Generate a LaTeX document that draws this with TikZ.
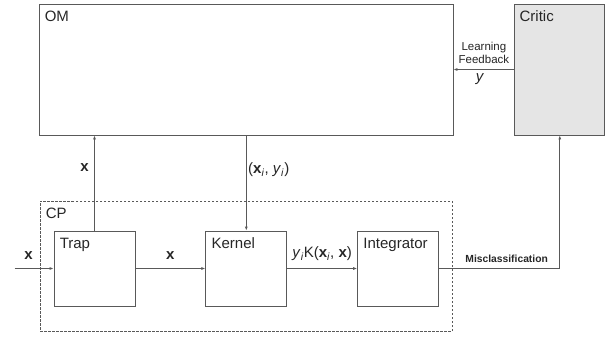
\documentclass[tikz,border=0pt]{standalone}
\usepackage{fontspec}
\setmainfont{Liberation Sans}
\usetikzlibrary{arrows.meta,positioning}

\begin{document}
\begin{tikzpicture}[x=1pt,y=-1pt,node distance=70pt,>={Latex[length=4pt,width=3pt]},
  block/.style={draw=black!65,line width=0.8pt,minimum width=81pt,minimum height=75pt,inner sep=0pt},
  wire/.style={draw=black!65,line width=0.8pt},
  tag/.style={font=\fontsize{15}{17}\selectfont,text=black!85},
  boxlabel/.style={tag,anchor=north west,inner sep=0pt,xshift=6pt,yshift=-7pt},
  smalltag/.style={font=\fontsize{11.5}{13}\selectfont,text=black!85,align=center}]
\useasboundingbox (0,0) rectangle (611,337);

% models on top
\node[block,minimum width=414pt,minimum height=131pt,label={[boxlabel]north west:OM}] (om) at (246,69.5) {};
\node[block,fill=black!10,minimum width=90pt,minimum height=131pt,right=61pt of om,label={[boxlabel,xshift=-1pt]north west:Critic}] (critic) {};

% CP chain
\node[draw=black!65,line width=0.6pt,dash pattern=on 2.5pt off 1.5pt,minimum width=412pt,minimum height=130pt,inner sep=0pt,label={[boxlabel]north west:CP}] (cp) at (246,266) {};
\node[block,label={[boxlabel]north west:Trap}] (trap) at (94.5,268.5) {};
\node[block,right=of trap,label={[boxlabel]north west:Kernel}] (kern) {};
\node[block,right=of kern,label={[boxlabel]north west:Integrator}] (integ) {};
\coordinate[left=39pt of trap.west] (in);

\draw[wire,->] (in) -- node[tag,above=5pt,pos=0.36] {\textbf{x}} (trap);
\draw[wire,->] (trap) -- node[tag,above=5pt] {\textbf{x}} (kern);
\draw[wire,->] (kern) -- node[tag,above=4pt] {\textit{y}\textsubscript{\textit{i}}K(\textbf{x}\textsubscript{\textit{i}}, \textbf{x})} (integ);
\draw[wire,->] (integ) -- node[font=\bfseries\fontsize{10.3}{12}\selectfont,text=black!85,above=2pt,pos=0.56] {Misclassification} (integ -| critic) -- (critic);

% links to and from OM
\draw[wire,->] (trap) -- node[tag,left=2pt,pos=0.66] {\textbf{x}} (trap |- om.south);
\draw[wire,->] (kern |- om.south) -- node[tag,right,inner sep=1.5pt,pos=0.36] {(\textbf{x}\textsubscript{\textit{i}}, \textit{y}\textsubscript{\textit{i}})} (kern);
\draw[wire,->] (critic) -- node[smalltag,above=2pt] {Learning\\Feedback} node[tag,below,xshift=-4pt] {\textit{y}} (om);
\end{tikzpicture}
\end{document}
